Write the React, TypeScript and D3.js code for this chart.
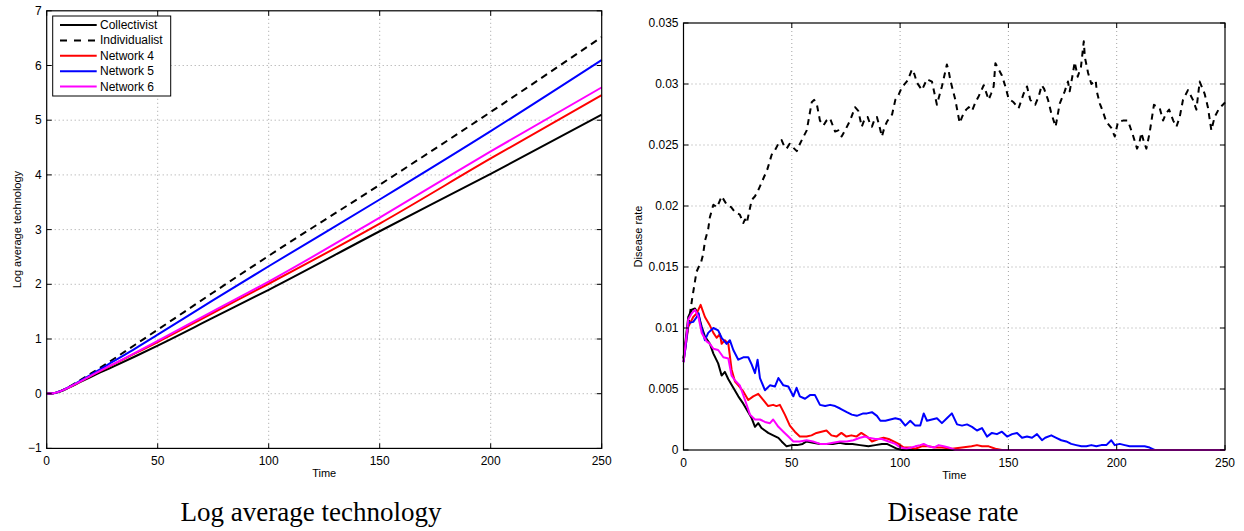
import React from "react";
import * as d3 from "d3";

// ---------- Data: Log average technology (left) ----------
const techCollectivist: [number, number][] = [
  [0, 0], [3, 0.008], [6, 0.04], [10, 0.11], [15, 0.21], [20, 0.31], [30, 0.495], [40, 0.685],
  [50, 0.88], [75, 1.39], [100, 1.9], [150, 2.97], [200, 4.02], [250, 5.1],
];
const techIndividualist: [number, number][] = [
  [0, 0], [3, 0.008], [6, 0.045], [10, 0.125], [15, 0.245], [20, 0.37], [30, 0.63], [40, 0.9],
  [50, 1.17], [75, 1.85], [100, 2.52], [150, 3.82], [200, 5.15], [250, 6.52],
];
const techNetwork4: [number, number][] = [
  [0, 0], [3, 0.008], [6, 0.042], [10, 0.115], [15, 0.22], [20, 0.33], [30, 0.535], [40, 0.74],
  [50, 0.945], [75, 1.48], [100, 2.01], [150, 3.11], [200, 4.3], [250, 5.46],
];
const techNetwork5: [number, number][] = [
  [0, 0], [3, 0.008], [6, 0.045], [10, 0.12], [15, 0.235], [20, 0.35], [30, 0.59], [40, 0.83],
  [50, 1.08], [75, 1.71], [100, 2.33], [150, 3.55], [200, 4.8], [250, 6.1],
];
const techNetwork6: [number, number][] = [
  [0, 0], [3, 0.008], [6, 0.042], [10, 0.115], [15, 0.22], [20, 0.33], [30, 0.54], [40, 0.75],
  [50, 0.965], [75, 1.51], [100, 2.05], [150, 3.22], [200, 4.43], [250, 5.6],
];

// ---------- Data: Disease rate (right) ----------
const disIndividualist: [number, number][] = [
  [0, 0.0075], [1, 0.0088], [2, 0.01], [3, 0.0112], [4, 0.0124], [5, 0.0135], [6, 0.0146], [7, 0.015],
  [8, 0.0153], [9, 0.016], [10, 0.0172], [11.4, 0.0181], [12.2, 0.0191], [13.8, 0.0201], [15.5, 0.0199],
  [17.6, 0.0208], [20, 0.0201], [22, 0.0199], [23.8, 0.0195], [26, 0.0193], [27.6, 0.0186], [28.4, 0.0189],
  [29.2, 0.0186], [31.5, 0.0205], [33, 0.0208], [34.5, 0.0213], [36, 0.0219], [38.7, 0.023], [40.7, 0.0242],
  [42.3, 0.0246], [43.8, 0.0251], [45.3, 0.0254], [46.5, 0.0249], [47.6, 0.0247], [49, 0.0251], [50, 0.0249],
  [52.3, 0.0245], [53.5, 0.025], [54.6, 0.0254], [56.9, 0.0262], [59.2, 0.0285], [60.3, 0.0287], [61.5, 0.0284],
  [63, 0.027], [64.6, 0.0266], [66, 0.027], [67.6, 0.0272], [70, 0.0261], [71.5, 0.0262], [73, 0.0257],
  [74.6, 0.0262], [76.9, 0.027], [79.2, 0.0281], [80.7, 0.0278], [82.3, 0.0265], [83.8, 0.0272], [85, 0.0273],
  [86, 0.0268], [87, 0.0265], [88.2, 0.0271], [89.3, 0.0273], [90.5, 0.0265], [91.6, 0.0257], [92.7, 0.0264],
  [93.9, 0.0269], [95, 0.0272], [96.3, 0.0275], [97.8, 0.0287], [99.3, 0.0291], [100.5, 0.0296], [101.7, 0.0299],
  [103.5, 0.0303], [105.5, 0.0312], [106.6, 0.0308], [107.8, 0.0301], [110.1, 0.0295], [112.4, 0.0304],
  [113.5, 0.0303], [114.7, 0.0302], [117, 0.0283], [118.2, 0.0291], [119.3, 0.0298], [121.6, 0.0316],
  [122.4, 0.0311], [123.2, 0.0303], [125.5, 0.0287], [127.5, 0.0268], [128.4, 0.0272], [129.3, 0.0276],
  [130.5, 0.0279], [131.7, 0.0281], [133.2, 0.0278], [134.8, 0.0285], [136.3, 0.029], [138.6, 0.0299],
  [140.9, 0.0287], [142, 0.0292], [143.2, 0.0298], [144, 0.0317], [145.5, 0.0312], [147, 0.0307],
  [148.6, 0.0298], [150.1, 0.0288], [152.4, 0.0285], [154.7, 0.028], [157, 0.0292], [158.6, 0.0298],
  [160.1, 0.0287], [162.4, 0.0283], [164, 0.029], [165.4, 0.0299], [166.5, 0.0296], [168.3, 0.0287],
  [169.8, 0.0276], [171.8, 0.0265], [173.7, 0.0284], [176, 0.0294], [177.5, 0.0302], [178.3, 0.0294],
  [179.8, 0.0309], [180.6, 0.0318], [182, 0.0306], [183.5, 0.0314], [184.8, 0.0335], [185.3, 0.0322],
  [186.8, 0.0309], [188.3, 0.03], [190.3, 0.0303], [190.8, 0.0294], [192.2, 0.0284], [193.7, 0.0277],
  [195.2, 0.0269], [197.5, 0.0264], [199.1, 0.0257], [200.6, 0.0269], [202.9, 0.027], [205.2, 0.027],
  [207.5, 0.0258], [209.4, 0.0247], [210.5, 0.0252], [211.4, 0.026], [212.5, 0.0253], [213.7, 0.0247],
  [215.2, 0.026], [217.2, 0.0283], [219.9, 0.028], [221.4, 0.027], [222.8, 0.0276], [224.2, 0.0279],
  [226.1, 0.027], [227.6, 0.0265], [229.1, 0.0273], [230.6, 0.0287], [232.9, 0.0295], [235.2, 0.0287],
  [236.8, 0.0279], [238.3, 0.0302], [240.6, 0.0292], [242.1, 0.0281], [243.7, 0.0262], [245.2, 0.0273],
  [247.3, 0.028], [249.6, 0.0284], [250, 0.0285],
];
const disNetwork5: [number, number][] = [
  [0, 0.0072], [1, 0.0085], [2.2, 0.0104], [4.5, 0.0105], [6.1, 0.0109], [7, 0.0112], [7.6, 0.0105],
  [9.9, 0.009], [11.4, 0.0096], [13.8, 0.01], [16, 0.0098], [17.6, 0.0092], [19.9, 0.0087], [21.4, 0.009],
  [23, 0.0082], [25.3, 0.0074], [27.6, 0.0076], [29.9, 0.0076], [31.5, 0.007], [33, 0.0063], [34.2, 0.0074],
  [35.3, 0.0059], [37.6, 0.0049], [39.9, 0.0053], [42.2, 0.0052], [43.8, 0.0059], [46.1, 0.0053],
  [48.4, 0.0052], [50.7, 0.0044], [52.2, 0.0051], [53.7, 0.0044], [56.1, 0.0042], [58.4, 0.0045],
  [60.7, 0.0045], [63, 0.0037], [65.4, 0.0036], [67.7, 0.0037], [70, 0.0036], [72.3, 0.0034], [75.4, 0.0031],
  [77.7, 0.0029], [80, 0.0028], [83, 0.003], [84.7, 0.003], [87, 0.0031], [89.3, 0.0028], [90.9, 0.0024],
  [93.2, 0.0024], [95.5, 0.0025], [97.8, 0.0026], [100.1, 0.0025], [102.4, 0.002], [104.7, 0.0024],
  [107, 0.002], [109.3, 0.002], [110.9, 0.003], [112.4, 0.0024], [114.7, 0.0025], [117, 0.0026],
  [119.3, 0.0022], [121.6, 0.0026], [123.9, 0.003], [126.3, 0.0021], [128.6, 0.002], [130.9, 0.0021],
  [133.2, 0.0019], [135.5, 0.0016], [137.8, 0.0018], [140.1, 0.0011], [142.4, 0.0014], [144.7, 0.0013],
  [147, 0.0015], [149.4, 0.0011], [151.7, 0.0013], [154, 0.0014], [156.3, 0.001], [158.6, 0.0011],
  [160.9, 0.001], [163.2, 0.0013], [165.5, 0.0008], [167, 0.001], [169.8, 0.0012], [172.1, 0.001],
  [174.4, 0.0008], [176.7, 0.0007], [179, 0.0005], [181.3, 0.0004], [183.7, 0.0003], [186, 0.0003],
  [188.3, 0.0004], [190.6, 0.0003], [192.9, 0.0004], [195.2, 0.0004], [197.5, 0.0008], [199.1, 0.0004],
  [201.4, 0.0005], [203.7, 0.0004], [206, 0.0003], [208.3, 0.0003], [210.6, 0.0003], [212.9, 0.0003],
  [215.2, 0.0002], [217.5, 0], [250, 0],
];
const disNetwork4: [number, number][] = [
  [0, 0.0072], [2.2, 0.0101], [4.5, 0.0109], [6.1, 0.0112], [7.9, 0.0119], [9.9, 0.0109], [12.2, 0.0102],
  [13.8, 0.0096], [15.3, 0.0092], [16.8, 0.0095], [17.6, 0.0087], [19.1, 0.009], [20.7, 0.0087],
  [22.2, 0.0066], [23.8, 0.0056], [25.3, 0.0053], [27.6, 0.0048], [29.9, 0.0041], [32.2, 0.0044],
  [34.5, 0.0046], [36.8, 0.0041], [39.1, 0.0036], [41.4, 0.0037], [42.9, 0.0036], [44.5, 0.0037],
  [46.8, 0.0029], [49.1, 0.002], [51.4, 0.0015], [53.7, 0.0011], [56.8, 0.0011], [59.1, 0.0012],
  [61.4, 0.0014], [63.7, 0.0015], [66, 0.0016], [68.3, 0.0012], [70.6, 0.0011], [72.9, 0.0014],
  [75.2, 0.0011], [77.5, 0.0012], [79.8, 0.0011], [82.1, 0.0014], [84.7, 0.0011], [87, 0.0007], [90, 0.0009],
  [92.4, 0.001], [94.7, 0.0009], [97, 0.0007], [99.3, 0.0005], [101.7, 0.0002], [104.7, 0.0002],
  [107, 0.0001], [110, 0.0003], [113, 0.0003], [116, 0.0002], [119.3, 0.0002], [124, 0.0001], [128.6, 0.0002],
  [133, 0.0003], [135.5, 0.0004], [137.8, 0.0003], [140.9, 0.0003], [144, 0.0001], [147, 0], [250, 0],
];
const disNetwork6: [number, number][] = [
  [0, 0.0072], [2.2, 0.0107], [3.8, 0.0112], [5.3, 0.0115], [6.9, 0.0109], [8.4, 0.0096], [10.7, 0.0089],
  [12.2, 0.0087], [13.8, 0.0083], [16, 0.0082], [18.4, 0.0076], [20.7, 0.0075], [22.2, 0.0061],
  [23.8, 0.0057], [26, 0.0053], [28.4, 0.0041], [30.7, 0.0029], [33, 0.0025], [35.3, 0.0025], [37.6, 0.0023],
  [39.9, 0.0022], [41.4, 0.0025], [43.8, 0.0019], [46.1, 0.0015], [48.4, 0.0011], [50.7, 0.0007],
  [53.7, 0.0007], [56.8, 0.0008], [59.8, 0.0007], [63, 0.0005], [66, 0.0005], [69.1, 0.0006], [72.3, 0.0007],
  [75.4, 0.0007], [78.4, 0.0008], [81.5, 0.001], [83.8, 0.0011], [85.5, 0.001], [88.6, 0.0009],
  [91.6, 0.0009], [94.7, 0.0007], [97.8, 0.0005], [100.1, 0.0002], [103, 0.0001], [107, 0.0003],
  [109.3, 0.0004], [110.9, 0.0005], [113.2, 0.0003], [115.5, 0.0002], [117.8, 0.0004], [120.1, 0.0003],
  [122.4, 0.0002], [125.5, 0], [250, 0],
];
const disCollectivist: [number, number][] = [
  [0, 0.0075], [2.2, 0.0109], [3.8, 0.0115], [5.3, 0.0116], [6.9, 0.0111], [8.4, 0.0101], [9.9, 0.0093],
  [12.2, 0.0087], [13.8, 0.0079], [16, 0.0071], [17.6, 0.0061], [19.1, 0.0064], [20.7, 0.0058], [23, 0.0051],
  [25.3, 0.0044], [27.6, 0.0038], [29.9, 0.0031], [31.5, 0.0026], [33, 0.0019], [34.5, 0.0022], [36, 0.0018],
  [37.6, 0.0016], [39.1, 0.0014], [41.4, 0.0012], [43.8, 0.001], [45.3, 0.0007], [47.6, 0.0003], [50, 0.0004],
  [52.5, 0.0004], [55, 0.0005], [56.8, 0.0007], [59.8, 0.0006], [63, 0.0005], [66, 0.0005], [69, 0.0005],
  [72, 0.0006], [75, 0.0005], [78, 0.0005], [81.5, 0.0004], [85.4, 0.0003], [88.5, 0.0004], [91.6, 0.0005],
  [93.9, 0.0005], [96.3, 0.0003], [98.6, 0.0001], [100.9, 0], [250, 0],
];

// ---------- Labels / ticks ----------
const seriesNames = ["Collectivist", "Individualist", "Network 4", "Network 5", "Network 6"];
const seriesColors = ["#000000", "#000000", "#ff0000", "#0000ff", "#ff00ff"];
const seriesDashed = [false, true, false, false, false];
const xTicks = [0, 50, 100, 150, 200, 250];
const techTicks = [-1, 0, 1, 2, 3, 4, 5, 6, 7];
const disTicks = [0, 0.005, 0.01, 0.015, 0.02, 0.025, 0.03, 0.035];
const disTickLabels = ["0", "0.005", "0.01", "0.015", "0.02", "0.025", "0.03", "0.035"];

const SANS = "'Liberation Sans', Arial, Helvetica, sans-serif";
const SERIF = "'Liberation Serif', 'Times New Roman', serif";

type Box = { left: number; right: number; top: number; bottom: number };

function Axes({
  box, x, y, yTicks, yLabels, yTitle, yTitleX, children,
}: {
  box: Box; x: d3.ScaleLinear<number, number>; y: d3.ScaleLinear<number, number>;
  yTicks: number[]; yLabels: string[]; yTitle: string; yTitleX: number; children?: React.ReactNode;
}) {
  const tl = 5;
  return (
    <g>
      {xTicks.slice(1, -1).map((t) => (
        <line key={"gx" + t} x1={x(t)} x2={x(t)} y1={box.top} y2={box.bottom}
          stroke="#8c8c8c" strokeWidth={0.8} strokeDasharray="1,3" />
      ))}
      {yTicks.slice(1, -1).map((t) => (
        <line key={"gy" + t} x1={box.left} x2={box.right} y1={y(t)} y2={y(t)}
          stroke="#8c8c8c" strokeWidth={0.8} strokeDasharray="1,3" />
      ))}
      {children}
      <rect x={box.left} y={box.top} width={box.right - box.left} height={box.bottom - box.top}
        fill="none" stroke="#000" strokeWidth={1.2} />
      {xTicks.map((t) => (
        <g key={"tx" + t}>
          <line x1={x(t)} x2={x(t)} y1={box.bottom} y2={box.bottom - tl} stroke="#000" />
          <line x1={x(t)} x2={x(t)} y1={box.top} y2={box.top + tl} stroke="#000" />
          <text x={x(t)} y={box.bottom + 17} textAnchor="middle" fontFamily={SANS} fontSize={12}>{t}</text>
        </g>
      ))}
      {yTicks.map((t, i) => (
        <g key={"ty" + t}>
          <line x1={box.left} x2={box.left + tl} y1={y(t)} y2={y(t)} stroke="#000" />
          <line x1={box.right} x2={box.right - tl} y1={y(t)} y2={y(t)} stroke="#000" />
          <text x={box.left - 5} y={y(t) + 4} textAnchor="end" fontFamily={SANS} fontSize={12}>{yLabels[i]}</text>
        </g>
      ))}
      <text x={(box.left + box.right) / 2} y={box.bottom + 29} textAnchor="middle" fontFamily={SANS} fontSize={11}>Time</text>
      <text transform={`translate(${yTitleX},${(box.top + box.bottom) / 2}) rotate(-90)`}
        textAnchor="middle" fontFamily={SANS} fontSize={11}>{yTitle}</text>
    </g>
  );
}

export default function App() {
  const W = 1244, H = 531;
  const boxL: Box = { left: 46.7, right: 601.7, top: 10.8, bottom: 448.4 };
  const boxR: Box = { left: 683.5, right: 1225, top: 23, bottom: 450 };

  const xL = d3.scaleLinear().domain([0, 250]).range([boxL.left, boxL.right]);
  const yL = d3.scaleLinear().domain([-1, 7]).range([boxL.bottom, boxL.top]);
  const xR = d3.scaleLinear().domain([0, 250]).range([boxR.left, boxR.right]);
  const yR = d3.scaleLinear().domain([0, 0.035]).range([boxR.bottom, boxR.top]);

  const lineL = d3.line<[number, number]>().x((d) => xL(d[0])).y((d) => yL(d[1])).curve(d3.curveMonotoneX);
  const lineR = d3.line<[number, number]>().x((d) => xR(d[0])).y((d) => yR(d[1]));

  const techSeries = [techCollectivist, techIndividualist, techNetwork4, techNetwork5, techNetwork6];
  const disSeries = [disCollectivist, disIndividualist, disNetwork4, disNetwork5, disNetwork6];

  const legX = 52.7, legY = 16, legW = 118, legH = 80;

  return (
    <svg width={W} height={H} style={{ position: "absolute", left: 0, top: 0, background: "#fff" }}>
      <rect x={0} y={0} width={W} height={H} fill="#fff" />
      <Axes box={boxL} x={xL} y={yL} yTicks={techTicks} yTitleX={21}
        yLabels={techTicks.map((t) => d3.format("")(t))} yTitle="Log average technology">
        {techSeries.map((s, i) => (
          <path key={i} d={lineL(s) || ""} fill="none" stroke={seriesColors[i]} strokeWidth={2}
            strokeDasharray={seriesDashed[i] ? "7,5" : undefined} />
        ))}
        <rect x={legX} y={legY} width={legW} height={legH} fill="#fff" stroke="#000" strokeWidth={1} />
        {seriesNames.map((n, i) => {
          const yy = legY + 9 + i * 15.4;
          return (
            <g key={n}>
              <line x1={60} x2={96.7} y1={yy} y2={yy} stroke={seriesColors[i]} strokeWidth={2}
                strokeDasharray={seriesDashed[i] ? "7,7" : undefined} />
              <text x={100} y={yy + 4} fontFamily={SANS} fontSize={12}>{n}</text>
            </g>
          );
        })}
      </Axes>
      <Axes box={boxR} x={xR} y={yR} yTicks={disTicks} yLabels={disTickLabels} yTitle="Disease rate" yTitleX={642}>
        {disSeries.map((s, i) => (
          <path key={i} d={lineR(s) || ""} fill="none" stroke={seriesColors[i]} strokeWidth={2}
            strokeLinejoin="round" strokeDasharray={seriesDashed[i] ? "6,5" : undefined} />
        ))}
      </Axes>
      <text x={311} y={521} textAnchor="middle" fontFamily={SERIF} fontSize={27}>Log average technology</text>
      <text x={953} y={521} textAnchor="middle" fontFamily={SERIF} fontSize={27}>Disease rate</text>
    </svg>
  );
}
